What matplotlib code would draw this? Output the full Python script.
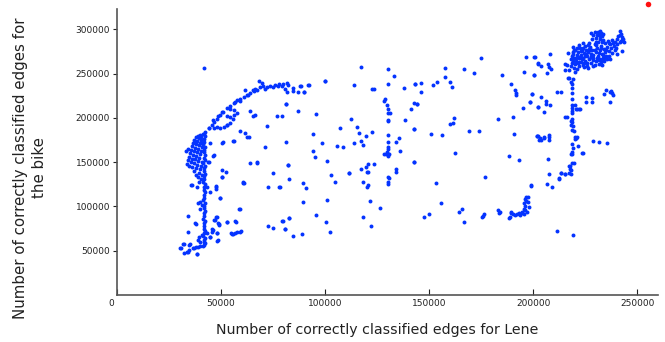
import matplotlib
matplotlib.use('Agg')
import matplotlib.pyplot as plt
from matplotlib.transforms import ScaledTranslation

# values, in thousands of edges (x: Lene, y: bike)
column_x = [41.6, 42.1, 41.8, 42.3, 41.4, 41.9, 42.2, 41.6, 42.0, 41.7, 42.3, 41.5,
            42.0, 41.8, 42.2, 41.6, 41.9, 42.3, 41.5, 42.0, 41.7, 42.2, 41.6, 41.9,
            42.3, 41.5, 42.0, 41.8, 42.2, 41.6, 41.9, 42.3, 41.5, 42.1, 41.7, 42.2,
            41.6, 41.9, 42.3, 41.5, 42.0, 41.8, 42.2, 41.7]
column_y = [56, 59, 62, 64, 67, 70, 72, 75, 78, 81, 84, 86, 89, 92, 95, 98, 101, 104,
            107, 110, 113, 116, 119, 122, 125, 128, 131, 134, 137, 140, 143, 146, 149,
            152, 155, 158, 161, 164, 167, 170, 173, 176, 179, 182]

blob_x = [33.5, 34.0, 34.5, 35.0, 35.5, 36.0, 36.5, 37.0, 38.0, 39.0, 40.0, 34.8, 35.5,
          36.0, 36.5, 37.0, 37.5, 38.0, 38.5, 39.5, 40.5, 36.0, 37.0, 37.5, 38.0, 38.5,
          39.0, 39.5, 40.0, 40.5, 37.0, 38.0, 38.5, 39.0, 39.5, 40.0, 40.5, 41.0, 41.0,
          38.0, 39.0, 39.5, 40.0, 40.5, 41.0, 35.5, 38.5, 39.5, 40.5, 41.0, 34.0, 33.0,
          35.9, 38.8, 39.9, 40.7, 39.9, 34.0, 37.5, 38.0, 34.3]
blob_y = [148, 152, 156, 160, 164, 168, 172, 175, 178, 180, 181, 146, 150, 154, 158, 162,
          166, 170, 174, 177, 178, 145, 149, 153, 157, 161, 165, 169, 172, 175, 140, 143,
          147, 151, 155, 159, 163, 167, 171, 136, 133, 138, 142, 146, 150, 124, 122, 128,
          131, 136, 165, 162, 124.2, 104.2, 105.3, 101.6, 96.7, 89.2, 81.6, 80.5, 71.5]

foot_x = [31.9, 30.8, 32.2, 33.5, 34.8, 34.4, 36.6, 37.8, 39.1, 38.6, 39.9, 39.1, 39.5,
          40.7, 41.5, 41.8, 30.4, 32.0, 34.0, 35.0, 36.8, 38.4, 40.0]
foot_y = [57.6, 52.7, 47.1, 48.2, 56.1, 50.8, 52.7, 54.5, 54.5, 45.9, 60.2, 62.1, 65.8,
          67.7, 55.6, 60.2, 52.6, 57.5, 48.0, 57.0, 52.6, 45.9, 55.0]

arc_x = [42.4, 44.0, 45.6, 46.4, 48.0, 49.6, 50.9, 52.8, 54.4, 56.0, 57.6, 59.2, 60.8,
         62.4, 64.0, 65.3, 66.4, 68.5, 70.4, 72.0, 73.3, 75.2, 77.6, 80.0, 81.6, 84.8,
         88.0, 89.9, 92.0, 100.0, 54.4, 52.8, 51.2, 49.6, 48.0, 46.4, 54.4, 56.0, 57.9,
         68.4, 69.9, 67.2, 61.5, 59.1, 56.7, 54.3, 50.3, 48.4, 46.0, 44.2, 41.5, 37.5,
         78.0, 79.5, 80.5, 81.5, 82.0, 76.0, 63.0, 66.0, 71.0, 42.0]
arc_y = [184.2, 188.0, 191.7, 195.5, 199.2, 203.0, 206.8, 210.5, 213.2, 216.2, 220.0,
         220.7, 223.7, 225.6, 228.2, 231.2, 233.0, 234.2, 235.7, 234.2, 235.7, 234.2,
         235.7, 238.0, 239.5, 234.0, 235.7, 229.3, 236.5, 241.4, 193.6, 191.7, 190.0,
         189.0, 190.0, 188.0, 200.5, 208.6, 205.0, 241.9, 239.6, 231.4, 231.4, 219.3,
         218.2, 210.0, 206.1, 201.6, 197.0, 188.1, 181.7, 173.0, 238.0, 236.0, 232.0,
         229.0, 236.5, 237.0, 226.0, 230.0, 232.5, 255.9]

scatter_x = [
    43.1, 47.6, 47.6, 44.7, 49.5, 60.4, 72.7, 78.0, 58.7, 47.9, 46.8, 48.4, 48.9, 52.7,
    56.9, 45.8, 45.8, 47.9, 54.7, 55.9, 57.8, 59.5, 44.7, 48.2, 72.7, 75.1, 79.5, 80.9,
    82.8, 52.7, 55.6, 66.4, 62.4, 55.9, 50.8, 46.3, 43.9, 50.3, 67.2, 72.3, 71.2, 76.8,
    81.3, 81.3, 82.4, 75.1, 60.7, 47.6, 52.8, 56.0, 59.2, 61.6, 63.2, 64.0, 65.6, 64.0,
    67.5, 60.8, 58.9, 57.3, 58.9, 56.8, 55.2, 53.1, 52.5, 56.0, 46.4, 44.0, 44.5, 50.4,
    50.4, 50.4, 49.6, 46.9, 47.7, 48.8, 48.0, 48.3, 45.9, 44.8, 43.2,
    117.3, 130.2, 133.2, 143.4, 84.5, 87.2, 88.3, 89.9, 92.5, 100.0, 113.9, 122.6, 123.7,
    137.7, 87.2, 95.5, 79.2, 112.5, 115.5, 107.4, 94.1, 116.4, 119.9, 122.5, 117.2,
    118.3, 114.1, 98.5, 105.6, 108.5, 81.3, 94.4, 95.0, 100.8, 82.2, 82.8, 102.9, 111.5,
    117.3, 120.5, 119.5, 123.7, 120.3, 130.4, 134.3, 142.8, 136.2, 134.0, 135.7, 138.6,
    142.5, 141.4, 142.5, 144.2, 128.7, 128.5, 129.8, 130.4, 130.4, 131.2, 130.1, 130.4,
    130.1, 130.4, 130.4, 130.4, 129.8, 128.4, 129.3, 130.6, 130.0,
    89.3, 90.9, 89.3, 105.0, 101.0, 95.7, 100.5, 102.4, 79.7, 82.8, 80.9, 84.8, 88.9,
    111.7, 120.5, 118.1, 120.8, 120.0, 130.6, 130.4, 134.1, 121.6, 126.4, 118.4, 121.9,
    78.4, 130.4, 130.2,
    175.0, 157.7, 166.8, 171.6, 184.8, 196.6, 200.6, 202.2, 195.8, 200.2, 143.3, 146.2,
    146.0, 151.8, 153.7, 157.7, 160.1, 160.9, 144.4, 189.3, 191.4, 191.6, 191.8, 199.4,
    198.6, 202.1, 195.0, 142.5, 162.0, 161.7, 159.8, 169.4, 174.1, 151.0, 156.4, 183.0,
    190.5, 190.7, 201.9, 203.0, 162.5, 188.6, 193.4, 142.8, 176.9,
    153.2, 155.9, 147.6, 149.9, 164.6, 166.0, 167.0, 175.8, 176.2, 175.5, 183.3, 184.0,
    183.6, 188.2, 189.3, 199.0,
    200.8, 208.2, 202.3, 203.9, 207.2, 207.6, 208.5, 206.6, 200.2, 213.5, 228.5, 228.2,
    236.7, 237.3, 237.9, 238.3, 220.2, 221.3, 222.3, 216.2, 199.4, 198.6, 203.7, 206.1,
    206.3, 207.9, 202.1, 205.4, 207.4, 207.4, 205.0, 201.8, 203.4,
    202.1, 205.0, 207.4, 203.7, 221.0, 220.2, 221.5, 223.9, 231.7, 235.6, 207.3, 213.5,
    215.5, 212.6, 207.4, 206.6, 209.2, 199.0, 211.7, 219.1, 235.0, 234.2, 237.0]
scatter_y = [
    121.5, 123.0, 119.3, 116.6, 109.8, 126.8, 122.2, 122.2, 97.4, 88.4, 84.7, 80.9, 79.0,
    82.0, 83.2, 74.2, 71.5, 69.6, 69.6, 68.9, 70.8, 71.9, 65.1, 61.3, 77.9, 75.6, 83.2,
    74.2, 86.6, 191.9, 199.0, 203.0, 178.7, 173.8, 172.7, 157.2, 150.5, 133.5, 149.8,
    191.1, 166.7, 202.4, 215.6, 173.0, 146.7, 138.0, 127.2, 121.9, 201.9, 203.0, 185.0,
    182.3, 177.8, 207.5, 201.9, 148.5, 149.2, 126.7, 97.0, 82.0, 71.4, 69.5, 68.4, 82.0,
    139.0, 173.3, 157.5, 149.6, 171.8, 171.8, 141.0, 133.5, 109.8, 84.6, 88.3, 80.0, 70.0,
    62.0, 73.3, 65.0, 69.5,
    257.0, 255.0, 247.2, 238.0, 230.2, 228.8, 236.3, 229.5, 237.0, 241.5, 237.0, 232.2,
    232.2, 233.3, 207.7, 204.6, 202.4, 198.7, 190.0, 188.1, 181.7, 182.5, 179.8, 183.6,
    174.2, 169.3, 171.2, 171.9, 168.5, 167.4, 215.6, 162.2, 155.8, 150.9, 146.7, 130.9,
    135.4, 138.0, 142.2, 148.2, 144.8, 147.9, 138.5, 132.8, 141.9, 149.8, 162.9, 173.0,
    177.6, 197.2, 187.4, 209.9, 217.0, 215.6, 220.9, 219.3, 214.5, 209.9, 205.8, 205.1,
    197.5, 196.7, 180.6, 172.7, 167.4, 164.8, 161.7, 159.1, 158.8, 158.8, 156.9,
    126.8, 121.1, 105.3, 127.2, 107.6, 90.3, 82.0, 70.8, 83.5, 86.6, 74.2, 66.9, 68.5,
    138.0, 138.5, 127.9, 124.2, 121.5, 132.1, 125.3, 139.2, 106.1, 98.5, 88.4, 78.2,
    122.2, 128.0, 238.0,
    267.2, 256.6, 255.1, 251.0, 248.3, 268.2, 269.0, 260.7, 252.1, 248.3, 238.2, 239.6,
    229.5, 237.0, 240.0, 246.4, 240.0, 234.4, 215.2, 237.8, 231.4, 228.5, 225.7, 226.5,
    218.2, 212.5, 211.4, 187.0, 199.3, 194.1, 193.0, 185.1, 184.8, 181.7, 180.2, 198.2,
    200.9, 181.4, 179.8, 174.9, 159.9, 157.2, 152.4, 149.8, 132.8,
    126.1, 104.2, 88.4, 91.4, 94.0, 97.4, 82.7, 89.2, 91.8, 87.5, 95.9, 94.2, 92.6, 87.2,
    92.9, 123.5,
    269.0, 271.7, 261.5, 258.5, 260.4, 257.8, 255.1, 251.0, 248.3, 228.8, 222.7, 218.2,
    217.5, 230.6, 228.4, 225.7, 214.5, 209.6, 209.6, 201.2, 226.9, 218.2, 223.1, 219.0,
    215.6, 214.5, 212.5, 206.2, 180.6, 178.0, 176.9, 179.8, 176.9,
    179.8, 178.0, 175.0, 175.0, 178.7, 175.7, 168.2, 160.6, 173.0, 171.2, 153.2, 137.7,
    136.2, 131.3, 136.5, 124.9, 122.2, 123.8, 72.2, 68.1, 231.2, 226.7, 228.6]

shelf_x = [188.8, 189.5, 190.5, 191.4, 192.4, 193.0, 193.8, 194.6, 195.4, 196.2, 195.8,
           196.2, 196.6, 197.7, 198.1, 197.0, 196.0, 195.6, 194.8, 196.8, 197.4]
shelf_y = [87.6, 93.2, 91.0, 90.3, 91.5, 92.9, 90.8, 92.0, 91.4, 95.9, 103.5, 108.4,
           111.0, 110.3, 99.7, 94.0, 100.5, 97.0, 93.8, 106.0, 104.5]

spine_x = [218.1, 217.3, 217.0, 216.5, 216.7, 215.1, 215.4, 216.7, 219.0, 218.9, 218.9,
           218.8, 218.8, 218.8, 218.8, 218.8, 218.8, 218.8, 219.0, 219.4, 220.2, 220.7,
           219.1, 218.6, 218.9, 218.3, 219.4, 217.5, 218.1, 218.4, 218.6, 218.3, 218.0,
           218.8, 217.6, 217.0, 212.2, 213.3, 215.2, 217.3, 218.9, 220.4, 222.0, 220.8,
           215.4, 211.5, 218.6, 223.4, 225.6, 225.6, 228.7]
spine_y = [240.6, 244.4, 253.8, 259.4, 272.8, 260.7, 254.0, 244.6, 243.5, 237.8, 233.3,
           227.7, 221.2, 214.5, 207.7, 205.8, 198.2, 195.6, 190.7, 185.1, 178.7, 176.9,
           165.6, 161.7, 159.1, 159.1, 148.6, 146.0, 141.1, 136.2, 186.1, 191.7, 196.6,
           210.5, 141.7, 145.9, 131.6, 137.2, 136.5, 137.2, 148.5, 177.0, 209.4, 209.4,
           201.1, 228.6, 170.0, 159.8, 223.7, 217.3, 173.7]

top_x = [228.0, 229.5, 231.0, 232.5, 233.5, 229.0, 231.5, 233.0, 230.0, 232.0, 228.5,
         233.5, 231.0, 233.0, 241.5, 242.0, 241.0, 242.5, 243.0, 240.5, 242.0, 243.5,
         241.5, 240.5, 236.0, 238.0, 239.5, 234.5, 237.0, 239.0, 235.5, 237.5, 240.0,
         234.5, 236.5, 238.0, 239.5, 240.5, 242.6, 236.5, 237.0, 232.7, 229.8, 224.2,
         219.9,
         218.0, 218.5, 218.0, 218.5, 219.0, 219.5, 219.5, 220.0, 220.0, 220.5, 221.0,
         221.0, 221.5, 222.0, 222.0, 222.5, 223.0, 223.0, 223.5, 224.0, 224.0, 224.5,
         225.0, 225.0, 225.5, 226.0, 226.0, 226.5, 227.0, 227.5, 228.0, 228.0, 228.5,
         229.0, 229.5, 230.0, 230.0, 230.5, 231.0, 231.5, 232.0, 232.0, 232.5, 233.0,
         233.5, 234.0, 234.0, 234.5, 235.0, 235.5, 222.0, 224.0, 227.0, 219.0, 226.5,
         229.0, 233.0,
         219.0, 219.2, 220.4, 221.6, 222.8, 223.6, 224.8, 225.8, 226.8, 227.8, 228.8,
         229.8, 230.8, 231.8, 232.8, 233.8, 219.8, 221.0, 222.4, 223.8, 225.2, 226.4,
         227.6, 229.0, 230.4, 231.6, 232.6, 234.2, 235.0, 221.8, 224.6, 227.2, 230.0,
         232.0, 236.4, 238.6, 241.8, 242.8, 230.6, 232.2]
top_y = [296.0, 297.0, 296.5, 296.0, 295.0, 293.0, 293.0, 292.0, 290.0, 289.0, 288.5,
         288.0, 286.0, 285.0, 298.0, 295.0, 292.0, 291.0, 289.0, 289.0, 287.0, 286.0,
         285.0, 283.0, 287.0, 288.0, 286.0, 284.0, 283.0, 281.0, 280.0, 278.5, 279.0,
         277.0, 275.5, 273.0, 276.0, 272.0, 275.7, 269.8, 266.0, 260.4, 259.6, 257.0,
         252.0,
         258.0, 262.0, 266.0, 270.0, 274.0, 256.0, 268.0, 261.0, 277.0, 264.0, 271.0,
         255.0, 274.0, 259.0, 267.0, 279.0, 263.0, 271.0, 276.0, 260.0, 268.0, 273.0,
         281.0, 264.0, 277.0, 270.0, 259.0, 274.0, 266.0, 280.0, 262.0, 272.0, 277.0,
         268.0, 283.0, 264.0, 274.0, 279.0, 270.0, 261.0, 276.0, 266.0, 281.0, 272.0,
         268.0, 278.0, 264.0, 274.0, 270.0, 266.0, 282.0, 284.0, 284.0, 280.0, 256.0,
         258.0, 260.0,
         264.0, 272.0, 267.0, 262.0, 275.0, 266.0, 270.0, 262.0, 278.0, 269.0, 265.0,
         277.0, 267.0, 273.0, 264.0, 271.0, 276.0, 279.0, 269.0, 279.0, 272.0, 282.0,
         269.0, 271.0, 282.0, 265.0, 279.0, 268.0, 276.0, 263.0, 262.0, 276.0, 286.0,
         292.0, 284.0, 284.0, 293.0, 288.0, 294.0, 298.0]

red_x = [255.3]
red_y = [328.4]

xticks = [0, 50000, 100000, 150000, 200000, 250000]
yticks = [50000, 100000, 150000, 200000, 250000, 300000]

blue = '#0433ff'
grey = '#555555'

fig = plt.figure(figsize=(6.65, 3.42), dpi=100)
ax = fig.add_axes([117 / 665, 1 - 295 / 342, 541 / 665, 286 / 342])

groups = [(column_x, column_y), (blob_x, blob_y), (foot_x, foot_y), (arc_x, arc_y),
          (scatter_x, scatter_y), (shelf_x, shelf_y), (spine_x, spine_y), (top_x, top_y)]
for gx, gy in groups:
    ax.scatter([v * 1000 for v in gx], [v * 1000 for v in gy], s=8, color=blue,
               linewidths=0)
ax.scatter([v * 1000 for v in red_x], [v * 1000 for v in red_y], s=16, color='#ff1010',
           linewidths=0, clip_on=False, zorder=5)

ax.set_xlim(0, 260000)
ax.set_ylim(0, 322800)
ax.set_xticks(xticks)
ax.set_xticklabels([str(t) for t in xticks])
ax.set_yticks(yticks)
ax.set_yticklabels([str(t) for t in yticks])

for side in ['top', 'right']:
    ax.spines[side].set_visible(False)
for side in ['left', 'bottom']:
    ax.spines[side].set_color(grey)
    ax.spines[side].set_linewidth(1.2)

ax.tick_params(axis='x', direction='in', length=4, width=0.8, color='#222222',
               labelsize=6.5, labelcolor='#222222', pad=3)
ax.tick_params(axis='y', direction='out', length=3, width=0.8, color='#222222',
               labelsize=6.5, labelcolor='#222222', pad=2)

# the "0" sits a little left of the corner
zero = ax.get_xticklabels()[0]
zero.set_transform(zero.get_transform() + ScaledTranslation(-6 / 100, 0, fig.dpi_scale_trans))

fig.text(377 / 665, 1 - 330 / 342, 'Number of correctly classified edges for Lene',
         ha='center', va='center', fontsize=10.2, color='#222222')
fig.text(30 / 665, 1 - 168 / 342, 'Number of correctly classified edges for\nthe bike',
         ha='center', va='center', rotation=90, fontsize=10.8, color='#222222',
         multialignment='center', linespacing=1.25)

fig.savefig('out.png', dpi=100)
